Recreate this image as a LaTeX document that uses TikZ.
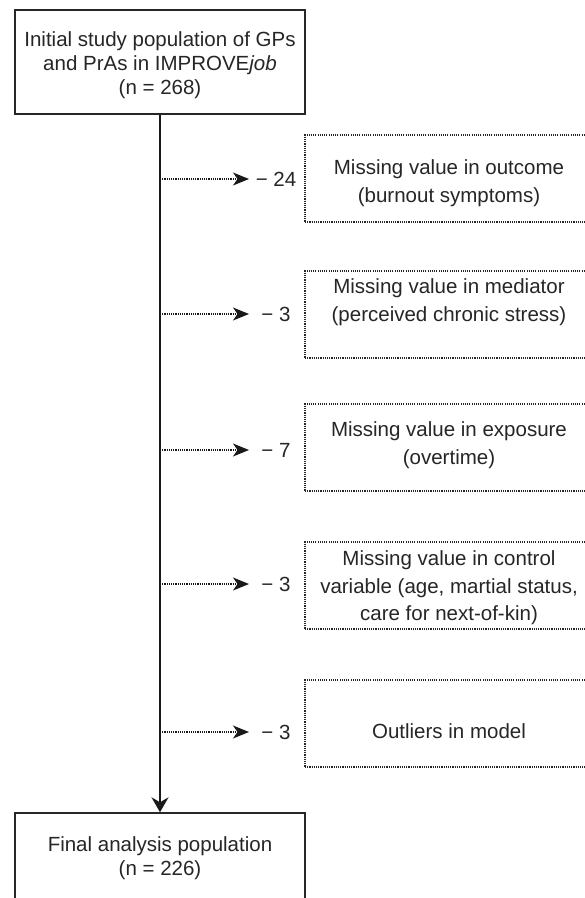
\documentclass[tikz,border=0pt]{standalone}
\usepackage{fontspec}
\setmainfont{Liberation Sans}
\usetikzlibrary{arrows.meta}
\begin{document}
\begin{tikzpicture}[x=1pt,y=-1pt,
  mainbox/.style={draw=black!85, line width=1.4pt, minimum width=290pt, inner sep=0pt},
  sidebox/.style={draw=black!85, line width=1.2pt, dash pattern=on 1.1pt off 1.1pt, minimum width=290pt, minimum height=87pt, inner sep=0pt},
  maintext/.style={align=center, font=\fontsize{20.5}{24.3}\selectfont, text=black!85},
  sidetext/.style={align=center, font=\fontsize{20.5}{27.5}\selectfont, text=black!85},
  cnt/.style={font=\fontsize{20.5}{24}\selectfont, text=black!85},
  mainarrow/.style={line width=1.6pt, draw=black!90, -{Stealth[length=15pt,width=17pt,inset=5pt]}},
  sidearrow/.style={line width=1.3pt, draw=black!90, dash pattern=on 1.1pt off 1.1pt, -{Stealth[length=16pt,width=13pt,inset=4.5pt,sep=0pt]}}]
\useasboundingbox (0,0) rectangle (585,898);
\clip (0,0) rectangle (585,898);
\fill[white] (0,0) rectangle (585,898);

% main boxes
\node[mainbox, minimum height=104pt] (top) at (160,62) {};
\node[maintext] (toptxt) at (160,65)
  {Initial study population of GPs\\and PrAs in IMPROVE\textit{job}\\(n = 268)};
\node[mainbox, minimum height=110pt] (bot) at (160,868) {};
\node[maintext] (bottxt) at (160,858) {Final analysis population\\(n = 226)};

\draw[mainarrow] (top.south) -- (bot.north);

% side boxes
\node[sidebox] (b1) at (450,178.5) {};
\node[sidebox] (b2) at (450,314.5) {};
\node[sidebox] (b3) at (450,447.5) {};
\node[sidebox] (b4) at (450,585.5) {};
\node[sidebox] (b5) at (450,723.5) {};

\node[sidetext] (t1) at (449,183) {Missing value in outcome\\(burnout symptoms)};
\node[sidetext] (t2) at (449,302) {Missing value in mediator\\(perceived chronic stress)};
\node[sidetext] (t3) at (449,445) {Missing value in exposure\\(overtime)};
\node[sidetext] (t4) at (449,588) {Missing value in control\\variable (age, martial status,\\care for next-of-kin)};
\node[sidetext] (t5) at (449,731) {Outliers in model};

% counts
\node[cnt] (c1) at (276,179) {− 24};
\node[cnt] (c2) at (276,314) {− 3};
\node[cnt] (c3) at (276,450) {− 7};
\node[cnt] (c4) at (276,584) {− 3};
\node[cnt] (c5) at (276,732) {− 3};

% side connectors
\foreach \i/\y in {1/179,2/314,3/450,4/584,5/732}{
  \coordinate (s\i) at (160,\y);
  \coordinate (e\i) at (249,\y);
  \draw[sidearrow] (s\i) -- (e\i);
}
\end{tikzpicture}
\end{document}
